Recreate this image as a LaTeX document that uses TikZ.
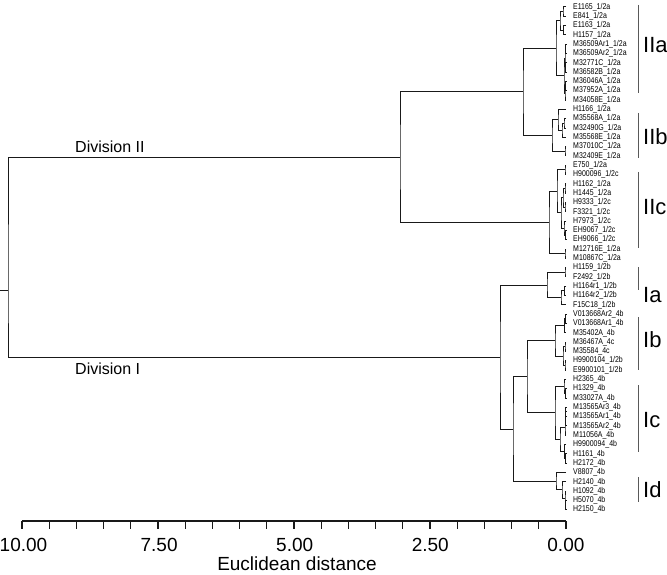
\documentclass[tikz,border=0pt]{standalone}
\usepackage{fontspec}
\setmainfont{Liberation Sans}
\newfontfamily\leaffont[FakeStretch=0.83]{Liberation Sans}
\usetikzlibrary{calc}

% join two children at distance x (in px) and name the new node
\newcommand{\clust}[4]{%
  \path let \p1=(#1), \p2=(#2) in coordinate (#4) at (#3pt,{(\y1+\y2)/2});
  \draw[branch] (#1) -| (#4) |- (#2);}

\begin{document}
\begin{tikzpicture}[
    x=1pt, y=-1pt,
    branch/.style={line width=1pt, color=black!90},
    leaf/.style={
      anchor=west,
      inner xsep=7pt,
      inner ysep=0pt,
      font=\leaffont\fontsize{8.4}{9}\selectfont
    },
    grpbar/.style={line width=0.9pt, color=black!65},
    grp/.style={anchor=west, inner sep=0pt, font=\fontsize{22}{24}\selectfont},
    divlab/.style={anchor=west, inner sep=0pt, font=\fontsize{16}{18}\selectfont},
    axisline/.style={line width=1.1pt, color=black!90},
    ticklab/.style={inner sep=1pt, font=\fontsize{19}{21}\selectfont},
  ]
  \useasboundingbox (0,0) rectangle (667,575);

  % Leaves
  \foreach \nm/\sfx [count=\i from 0] in {
      E1165/{1/2a}, E841/{1/2a}, E1163/{1/2a}, H1157/{1/2a},
      M36509Ar1/{1/2a}, M36509Ar2/{1/2a}, M32771C/{1/2a}, M36582B/{1/2a},
      M36046A/{1/2a}, M37952A/{1/2a}, M34058E/{1/2a},
      H1166/{1/2a}, M35568A/{1/2a}, M32490G/{1/2a}, M35568E/{1/2a},
      M37010C/{1/2a}, M32409E/{1/2a},
      E750/{1/2a}, H900096/{1/2c}, H1162/{1/2a}, H1445/{1/2a}, H9333/{1/2c},
      F3321/{1/2c}, H7973/{1/2c}, EH9067/{1/2c}, EH9066/{1/2c},
      M12716E/{1/2a}, M10867C/{1/2a},
      H1159/{1/2b}, F2492/{1/2b}, H1164r1/{1/2b}, H1164r2/{1/2b}, F15C18/{1/2b},
      V013668Ar2/4b, V013668Ar1/4b, M35402A/4b, M36467A/4c, M35584/4c,
      H9900104/{1/2b}, E9900101/{1/2b},
      H2365/4b, H1329/4b, M33027A/4b, M13565Ar3/4b, M13565Ar1/4b,
      M13565Ar2/4b, M11056A/4b, H9900094/4b, H1161/4b, H2172/4b,
      V8807/4b, H2140/4b, H1092/4b, H5070/4b, H2150/4b}
    \node[leaf] (\nm) at (566,{7+9.31*\i}) {\nm\_\sfx};

  % Cluster IIa
  \clust{E1165.west}{E841.west}{563}{a1}
  \clust{E1163.west}{H1157.west}{563.5}{a2}
  \clust{a1}{a2}{560}{a3}
  \clust{M36509Ar1.west}{M36509Ar2.west}{565.5}{b1}
  \clust{M32771C.west}{M36582B.west}{565.5}{b2}
  \clust{M36046A.west}{M37952A.west}{565.5}{b3}
  \clust{b3}{M34058E.west}{565}{b4}
  \clust{b1}{b2}{565}{b5}
  \clust{b5}{b4}{564}{b6}
  \clust{a3}{b6}{556}{IIa}

  % Cluster IIb
  \clust{M35568A.west}{M32490G.west}{564}{u1}
  \clust{u1}{M35568E.west}{562}{u2}
  \clust{H1166.west}{u2}{558}{u3}
  \clust{M37010C.west}{M32409E.west}{565}{u4}
  \clust{u3}{u4}{552}{IIb}
  \clust{IIa}{IIb}{523}{IIab}

  % Cluster IIc
  \clust{E750.west}{H900096.west}{565}{c1}
  \clust{H1162.west}{H1445.west}{565}{c2}
  \clust{H9333.west}{F3321.west}{565}{c3}
  \clust{c2}{c3}{563}{c4}
  \clust{EH9067.west}{EH9066.west}{565.5}{c5}
  \clust{H7973.west}{c5}{564}{c6}
  \clust{c4}{c6}{561}{c7}
  \clust{c1}{c7}{557}{c8}
  \clust{M12716E.west}{M10867C.west}{565}{c9}
  \clust{c8}{c9}{549}{IIc}
  \clust{IIab}{IIc}{400}{divII}

  % Cluster Ia
  \clust{H1159.west}{F2492.west}{565}{d1}
  \clust{H1164r1.west}{H1164r2.west}{564.5}{d2}
  \clust{d2}{F15C18.west}{561}{d3}
  \clust{d1}{d3}{547}{Ia}

  % Cluster Ib
  \clust{V013668Ar2.west}{V013668Ar1.west}{565.5}{e1}
  \clust{e1}{M35402A.west}{564.5}{e2}
  \clust{M36467A.west}{M35584.west}{565}{e3}
  \clust{H9900104.west}{E9900101.west}{565}{e4}
  \clust{e3}{e4}{563}{e5}
  \clust{e2}{e5}{555}{Ib}

  % Cluster Ic
  \clust{H1329.west}{M33027A.west}{565.5}{f1}
  \clust{H2365.west}{f1}{564}{f2}
  \clust{M13565Ar3.west}{M13565Ar1.west}{565.8}{f3}
  \clust{f3}{M13565Ar2.west}{565.5}{f4}
  \clust{f4}{M11056A.west}{565}{f5}
  \clust{H1161.west}{H2172.west}{565.5}{f6}
  \clust{H9900094.west}{f6}{564.5}{f7}
  \clust{f5}{f7}{560}{f8}
  \clust{f2}{f8}{555}{Ic}
  \clust{Ib}{Ic}{527}{Ibc}

  % Cluster Id
  \clust{H5070.west}{H2150.west}{565.7}{g1}
  \clust{H1092.west}{g1}{565}{g2}
  \clust{H2140.west}{g2}{562}{g3}
  \clust{V8807.west}{g3}{556}{Id}
  \clust{Ibc}{Id}{513}{Ibcd}
  \clust{Ia}{Ibcd}{500}{divI}

  % Root
  \coordinate (root) at (8,290);
  \coordinate (stem) at (0,290);
  \draw[branch] (divII) -| (root) |- (divI);
  \draw[branch] (stem) -- (root);

  \node[divlab] (divIIlab) at (75,147) {Division II};
  \node[divlab] (divIlab) at (75,369) {Division I};

  % Group bars
  \foreach \g/\top/\bot/\mid in {IIa/5/93/45, IIb/113/158/137, IIc/172/248/207,
      Ia/267/290/295, Ib/317/370/340, Ic/385/452/420, Id/477/502/490} {
    \draw[grpbar] (638,\top) -- (638,\bot);
    \node[grp] (lab\g) at (643,\mid) {\g};
  }

  % Axis
  \coordinate (ax0) at (22,521);
  \coordinate (ax1) at (566,521);
  \draw[axisline] (ax0) -- (ax1);
  \foreach \k in {0,...,20}
    \draw[axisline] ({22+27.2*\k},521) -- ++(0,8);
  \foreach \v [count=\k from 0] in {10.00,7.50,5.00,2.50,0.00}
    \node[ticklab] (t\k) at ({23.5+135.6*\k},545) {\v};
  \node[ticklab] (xlab) at (297,564) {Euclidean distance};
\end{tikzpicture}
\end{document}
